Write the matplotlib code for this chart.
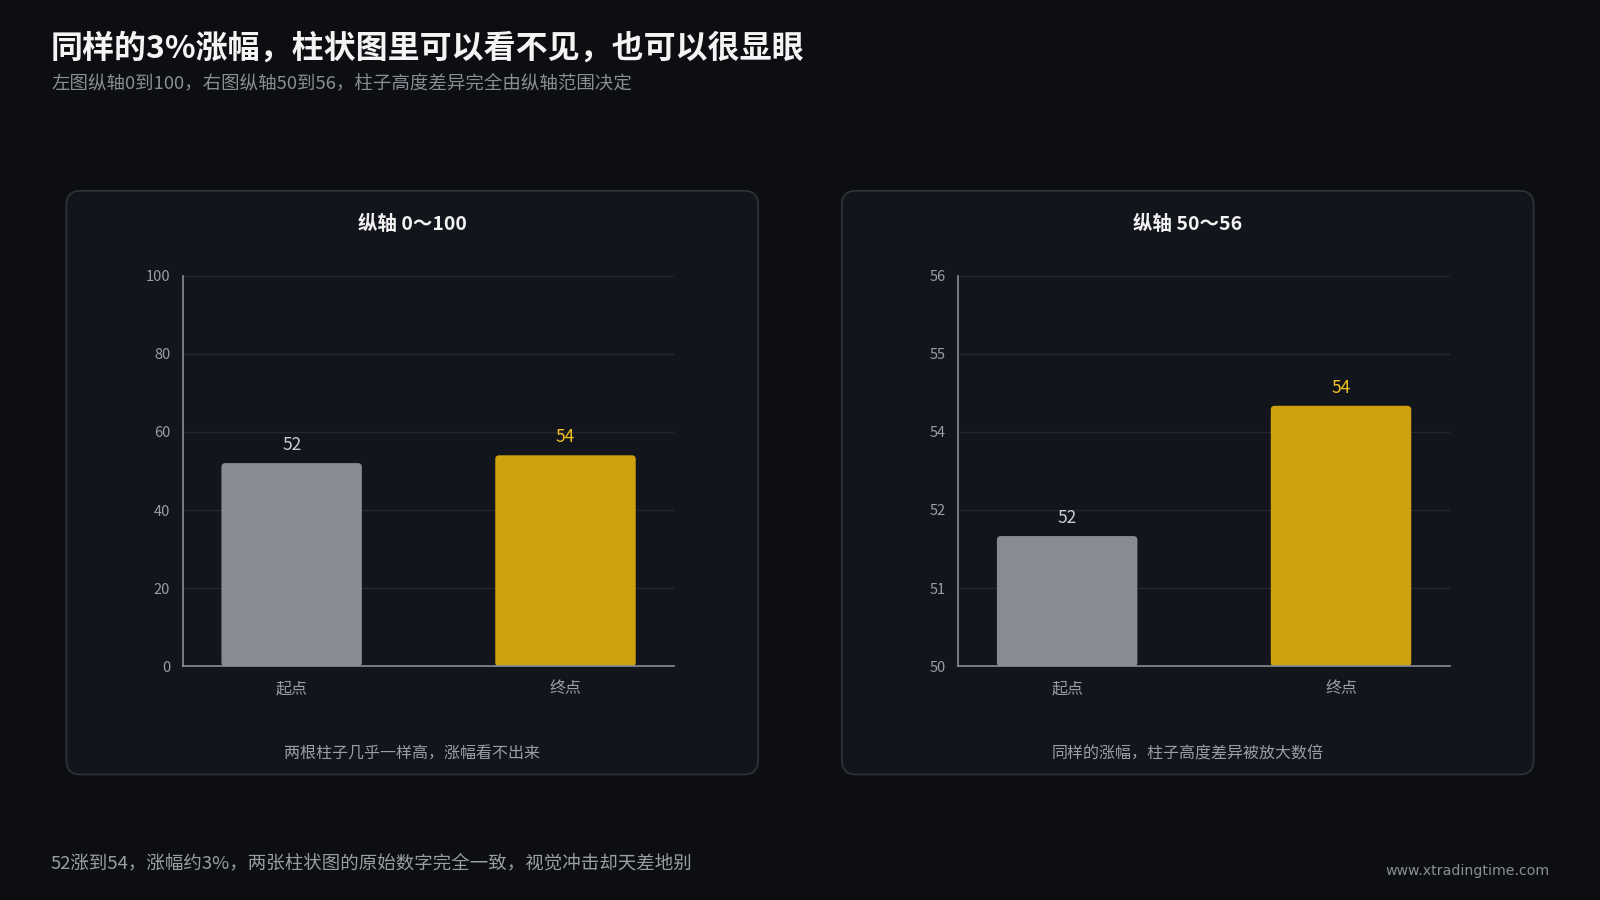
import matplotlib
matplotlib.use("Agg")
import matplotlib.pyplot as plt
import numpy as np
from matplotlib.patches import FancyBboxPatch

plt.rcParams['font.family'] = ['Noto Sans CJK SC', 'DejaVu Sans']

# data
categories = ['起点', '终点']
values = [52, 54]
left_range = (0, 100)
right_range = (50, 56)
panel_titles = ['纵轴 0～100', '纵轴 50～56']
panel_notes = ['两根柱子几乎一样高，涨幅看不出来', '同样的涨幅，柱子高度差异被放大数倍']

title = '同样的3%涨幅，柱状图里可以看不见，也可以很显眼'
subtitle = '左图纵轴0到100，右图纵轴50到56，柱子高度差异完全由纵轴范围决定'
footer = '52涨到54，涨幅约3%，两张柱状图的原始数字完全一致，视觉冲击却天差地别'
site = 'www.xtradingtime.com'

BG = '#0d0e12'
PANEL = '#12151b'
PANEL_EDGE = '#2d3138'
GRID = '#24282e'
SPINE = '#8a8f96'
BAR_COLORS = ['#878b92', '#cfa00f']
LABEL_COLORS = ['#c9ccd1', '#f2c21f']

# reference canvas is 1568 x 882 px
W, H = 1568, 882

fig = plt.figure(figsize=(16, 9), dpi=100, facecolor=BG)

# background layer in reference pixel coords
bg = fig.add_axes([0, 0, 1, 1], zorder=0)
bg.set_xlim(0, W)
bg.set_ylim(H, 0)
bg.axis('off')

bg.text(50, 48, title, color='#f4f4f4', fontsize=23, fontweight='bold', va='center', ha='left')
bg.text(50, 82, subtitle, color='#8a8d93', fontsize=13.3, va='center', ha='left')
bg.text(50, 846, footer, color='#9a9da3', fontsize=13.3, va='center', ha='left')
bg.text(1519, 854, site, color='#8a8d93', fontsize=10.2, va='center', ha='right',
        family=['DejaVu Sans'])

panel_x = [65, 825]
pw, py, ph = 678, 187, 572


def round_bars(ax, bars, radius_px=4):
    # swap plain rectangles for ones with slightly rounded corners
    p0 = ax.transData.transform((0, 0))
    p1 = ax.transData.transform((1, 1))
    px_x = p1[0] - p0[0]
    px_y = p1[1] - p0[1]
    for b in bars:
        x, y = b.get_x(), b.get_y()
        w, h = b.get_width(), b.get_height()
        r = radius_px / px_x
        patch = FancyBboxPatch((x, y), w, h,
                               boxstyle=f'round,pad=0,rounding_size={r}',
                               mutation_aspect=px_x / px_y,
                               facecolor=b.get_facecolor(), edgecolor='none',
                               zorder=2)
        b.remove()
        ax.add_patch(patch)


for i, (ylim, ptitle, note) in enumerate(zip([left_range, right_range], panel_titles, panel_notes)):
    x0 = panel_x[i]
    bg.add_patch(FancyBboxPatch((x0, py), pw, ph, boxstyle='round,pad=0,rounding_size=14',
                                facecolor=PANEL, edgecolor=PANEL_EDGE, linewidth=1.3))
    cx = x0 + pw / 2
    bg.text(cx, 220, ptitle, color='#f2f2f2', fontsize=14, fontweight='bold',
            ha='center', va='center')
    bg.text(cx, 739, note, color='#9a9ea5', fontsize=11.5, ha='center', va='center')

    ax_left = x0 + 114
    ax = fig.add_axes([ax_left / W, 1 - 653 / H, 482 / W, 383 / H], zorder=1)
    ax.set_facecolor('none')
    lo, hi = ylim
    ax.set_ylim(lo, hi)
    ax.set_xlim(-0.398, 1.398)
    xs = np.arange(len(categories))
    bars = ax.bar(xs, np.array(values) - lo, bottom=lo, width=0.513, color=BAR_COLORS, zorder=2)
    round_bars(ax, bars)

    for xv, v, c in zip(xs, values, LABEL_COLORS):
        ax.annotate(f'{v}', (xv, v), xytext=(0, 13), textcoords='offset points',
                    ha='center', va='center', color=c, fontsize=12.5, zorder=3)

    ticks = np.linspace(lo, hi, 6)
    ax.set_yticks(ticks)
    ax.set_yticklabels([f'{t:.0f}' for t in ticks])
    ax.set_xticks(xs)
    ax.set_xticklabels(categories)
    ax.tick_params(axis='y', length=0, pad=9, colors='#9a9ea5', labelsize=10.5)
    ax.tick_params(axis='x', length=0, pad=10, colors='#9a9ea5', labelsize=11.5)
    for t in ticks[1:]:
        ax.axhline(t, color=GRID, linewidth=1, zorder=1)
    for s in ['top', 'right']:
        ax.spines[s].set_visible(False)
    for s in ['left', 'bottom']:
        ax.spines[s].set_color(SPINE)
        ax.spines[s].set_linewidth(1.2)

fig.savefig('out.png', dpi=100, facecolor=BG)
